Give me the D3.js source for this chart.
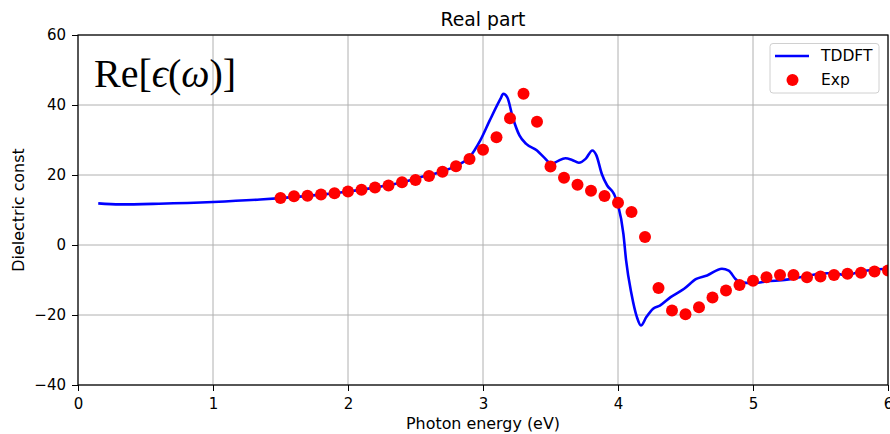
<!DOCTYPE html>
<html>
<head>
<meta charset="utf-8">
<script src="https://cdn.jsdelivr.net/npm/d3@7/dist/d3.min.js"></script>
<style>
  html, body { margin: 0; padding: 0; background: #fff; }
  svg { display: block; font-family: "DejaVu Sans", sans-serif; }
</style>
</head>
<body>
<svg id="chart" width="890" height="434"></svg>
<script>
// TDDFT calculation: photon energy (eV) and real part of the dielectric function
const tddftEnergy = [0.15, 0.31, 0.6, 1.0, 1.35, 1.5, 1.8, 2.0, 2.2, 2.4, 2.53, 2.68, 2.8, 2.9, 2.98, 3.05,
  3.13, 3.15, 3.18, 3.22, 3.27, 3.32, 3.40, 3.45, 3.51, 3.55, 3.61, 3.66, 3.71, 3.76, 3.81, 3.84,
  3.88, 3.92, 3.97, 4.0, 4.04, 4.06, 4.1, 4.14, 4.17, 4.21, 4.26, 4.31, 4.39, 4.49, 4.58, 4.66,
  4.77, 4.82, 4.87, 4.9, 5.0, 5.1, 5.25, 5.35, 5.5, 5.6, 5.69, 5.79, 5.89, 6.0];
const tddftValue = [11.9, 11.6, 11.8, 12.3, 13.0, 13.4, 14.4, 15.3, 16.4, 17.9, 19.3, 20.8, 22.6, 25.1, 29.9, 35.6,
  41.8, 43.2, 42.2, 36.5, 31.3, 28.9, 27.0, 25.1, 23.2, 23.9, 24.8, 24.3, 23.5, 24.6, 27.0, 25.6,
  20.3, 17.0, 14.6, 11.5, 3.2, -4.4, -14.0, -20.6, -23.0, -20.6, -18.2, -17.3, -14.9, -12.5, -9.7, -8.7,
  -6.8, -7.3, -9.7, -10.6, -10.9, -10.4, -9.9, -9.2, -8.2, -8.0, -8.7, -7.6, -7.1, -6.8];

// Experimental data
const expEnergy = [1.5, 1.6, 1.7, 1.8, 1.9, 2.0, 2.1, 2.2, 2.3, 2.4, 2.5, 2.6, 2.7, 2.8, 2.9, 3.0,
  3.1, 3.2, 3.3, 3.4, 3.5, 3.6, 3.7, 3.8, 3.9, 4.0, 4.1, 4.2, 4.3, 4.4, 4.5, 4.6,
  4.7, 4.8, 4.9, 5.0, 5.1, 5.2, 5.3, 5.4, 5.5, 5.6, 5.7, 5.8, 5.9, 6.0];
const expValue = [13.4, 13.9, 14.1, 14.4, 14.8, 15.3, 15.8, 16.4, 17.0, 17.9, 18.6, 19.7, 20.9, 22.5, 24.6, 27.2,
  30.8, 36.2, 43.2, 35.2, 22.4, 19.2, 17.2, 15.5, 14.0, 12.1, 9.4, 2.3, -12.3, -18.7, -19.8, -17.8,
  -15.0, -13.0, -11.4, -10.2, -9.2, -8.6, -8.6, -9.2, -9.0, -8.6, -8.2, -7.9, -7.6, -7.3];

const xTicks = [0, 1, 2, 3, 4, 5, 6];
const yTicks = [-40, -20, 0, 20, 40, 60];

const margin = { left: 78, right: 2, top: 35, bottom: 49 };
const W = 890, H = 434;
const svg = d3.select("#chart");

const x = d3.scaleLinear().domain([0, 6]).range([margin.left, W - margin.right]);
const y = d3.scaleLinear().domain([-40, 60]).range([H - margin.bottom, margin.top]);

svg.append("defs").append("clipPath").attr("id", "plotClip")
  .append("rect")
  .attr("x", x(0)).attr("y", y(60))
  .attr("width", x(6) - x(0)).attr("height", y(-40) - y(60));

// grid
const grid = svg.append("g").attr("stroke", "#b0b0b0").attr("stroke-width", 1);
grid.selectAll("line.gx").data(xTicks).join("line")
  .attr("x1", d => x(d)).attr("x2", d => x(d))
  .attr("y1", y(-40)).attr("y2", y(60));
grid.selectAll("line.gy").data(yTicks).join("line")
  .attr("x1", x(0)).attr("x2", x(6))
  .attr("y1", d => y(d)).attr("y2", d => y(d));

// TDDFT curve
const line = d3.line().x(d => x(d[0])).y(d => y(d[1])).curve(d3.curveMonotoneX);
svg.append("path")
  .datum(tddftEnergy.map((e, i) => [e, tddftValue[i]]))
  .attr("clip-path", "url(#plotClip)")
  .attr("fill", "none").attr("stroke", "#0000ff").attr("stroke-width", 2.6)
  .attr("stroke-linejoin", "round")
  .attr("d", line);

// experimental points
svg.append("g").attr("clip-path", "url(#plotClip)")
  .selectAll("circle").data(expEnergy.map((e, i) => [e, expValue[i]])).join("circle")
  .attr("cx", d => x(d[0])).attr("cy", d => y(d[1])).attr("r", 6)
  .attr("fill", "#ff0000");

// axes
const fmt = d => d < 0 ? "\u2212" + Math.abs(d) : String(d);
const xAxis = svg.append("g").attr("transform", `translate(0,${y(-40)})`)
  .call(d3.axisBottom(x).tickValues(xTicks).tickFormat(fmt).tickSize(6).tickPadding(7));
const yAxis = svg.append("g").attr("transform", `translate(${x(0)},0)`)
  .call(d3.axisLeft(y).tickValues(yTicks).tickFormat(fmt).tickSize(6).tickPadding(6));
[xAxis, yAxis].forEach(a => {
  a.select(".domain").remove();
  a.attr("font-size", 15).attr("font-family", "DejaVu Sans");
  a.selectAll("text").attr("fill", "#000");
  a.selectAll("line").attr("stroke", "#000").attr("stroke-width", 1);
});

// frame
svg.append("rect")
  .attr("x", x(0)).attr("y", y(60))
  .attr("width", x(6) - x(0)).attr("height", y(-40) - y(60))
  .attr("fill", "none").attr("stroke", "#000").attr("stroke-width", 1.2);

// labels
svg.append("text").attr("x", (x(0) + x(6)) / 2).attr("y", 26)
  .attr("text-anchor", "middle").attr("font-size", 18.8).text("Real part");
svg.append("text").attr("x", (x(0) + x(6)) / 2).attr("y", 429)
  .attr("text-anchor", "middle").attr("font-size", 15.9).text("Photon energy (eV)");
svg.append("text").attr("transform", `translate(23.5,${(y(60) + y(-40)) / 2}) rotate(-90)`)
  .attr("text-anchor", "middle").attr("font-size", 15.9).text("Dielectric const");

// formula annotation
const ann = svg.append("text").attr("x", 94).attr("y", 87)
  .attr("font-family", "Liberation Serif, DejaVu Serif, serif").attr("font-size", 40);
ann.append("tspan").text("Re[");
ann.append("tspan").attr("font-style", "italic").text("\u03f5");
ann.append("tspan").text("(");
ann.append("tspan").attr("font-style", "italic").text("\u03c9");
ann.append("tspan").text(")]");

// legend
const lg = svg.append("g");
lg.append("rect").attr("x", 770).attr("y", 43.5).attr("width", 109).attr("height", 49.5)
  .attr("rx", 3).attr("fill", "#fff").attr("fill-opacity", 0.8)
  .attr("stroke", "#d0d0d0").attr("stroke-width", 1);
lg.append("line").attr("x1", 775).attr("x2", 809).attr("y1", 56).attr("y2", 56)
  .attr("stroke", "#0000ff").attr("stroke-width", 2.6);
lg.append("text").attr("x", 821).attr("y", 61).attr("font-size", 15.5).text("TDDFT");
lg.append("circle").attr("cx", 792.5).attr("cy", 80).attr("r", 6).attr("fill", "#ff0000");
lg.append("text").attr("x", 821).attr("y", 85).attr("font-size", 15.5).text("Exp");
</script>
</body>
</html>
